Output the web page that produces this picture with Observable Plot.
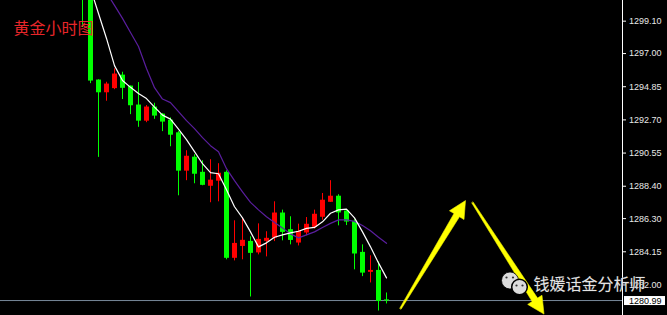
<!DOCTYPE html>
<html><head><meta charset="utf-8">
<script src="https://cdn.jsdelivr.net/npm/d3@7"></script>
<script src="https://cdn.jsdelivr.net/npm/@observablehq/plot@0.6"></script>
<style>html,body{margin:0;padding:0;background:#000;overflow:hidden}</style>
</head><body><div id="chart"></div>
<script>
// Hourly gold candles (XAUUSD), oldest first
const open  = [1302.20,1301.00,1295.25,1294.49,1294.76,1295.57,1294.86,1293.63,1292.65,1293.50,1293.04,1292.65,1291.83,1289.41,1290.25,1289.27,1288.43,1288.76,1289.27,1283.76,1284.53,1284.79,1284.11,1284.86,1285.07,1286.63,1285.55,1284.75,1285.40,1285.77,1286.42,1287.39,1287.72,1286.76,1286.09,1284.08,1282.85,1282.91,1281.00];
const high  = [1302.50,1301.20,1295.30,1295.14,1296.01,1295.79,1294.90,1295.12,1293.63,1293.78,1293.11,1292.83,1291.94,1290.70,1290.44,1290.05,1290.12,1289.86,1289.40,1286.16,1286.35,1285.12,1285.96,1285.45,1287.39,1286.85,1286.42,1285.94,1286.37,1286.85,1287.93,1288.76,1287.85,1286.87,1286.22,1284.60,1283.89,1283.50,1281.48];
const low   = [1298.69,1295.05,1290.27,1293.91,1294.66,1294.02,1293.04,1292.22,1292.52,1292.74,1291.94,1290.96,1287.78,1288.76,1288.56,1288.43,1287.33,1287.39,1283.63,1283.56,1283.63,1281.22,1283.95,1283.82,1284.81,1284.86,1284.60,1284.53,1285.19,1285.62,1286.20,1287.35,1285.83,1285.85,1282.98,1282.54,1282.13,1280.31,1280.77];
const close = [1301.00,1295.25,1294.49,1294.99,1295.64,1294.78,1293.65,1292.65,1293.50,1292.98,1292.59,1291.74,1289.41,1290.31,1289.21,1288.49,1288.76,1289.21,1283.76,1284.66,1284.86,1284.08,1284.92,1284.99,1286.63,1285.44,1284.92,1285.44,1285.90,1286.55,1287.46,1287.72,1286.70,1286.11,1284.04,1282.80,1282.91,1280.96,1280.99];
// moving averages
const maFast = [1302.91,1301.22,1299.60,1297.98,1296.22,1295.25,1294.81,1294.41,1294.08,1293.53,1293.01,1292.75,1292.10,1291.42,1290.64,1289.86,1289.28,1289.21,1288.17,1287.07,1286.35,1285.44,1284.47,1284.73,1285.09,1285.25,1285.38,1285.48,1285.67,1285.73,1286.09,1286.65,1286.87,1286.91,1286.35,1285.44,1284.47,1283.43,1282.46];
const maSlow = [1303.17,1302.59,1301.74,1300.96,1300.12,1299.28,1298.37,1297.46,1296.03,1294.79,1294.05,1293.82,1293.24,1292.65,1292.13,1291.55,1291.03,1290.64,1289.54,1288.76,1288.04,1287.35,1286.87,1286.42,1286.05,1285.70,1285.31,1285.05,1285.25,1285.44,1285.73,1285.99,1286.22,1286.22,1286.12,1285.86,1285.51,1285.09,1284.70];
const priceTicks = [1299.10,1297.00,1294.85,1292.70,1290.55,1288.40,1286.30,1284.15,1282.00,1279.85];
const lastPrice = 1280.99;
const titleText = "黄金小时图";
const watermarkText = "钱媛话金分析师";
// annotation arrows: [candle index, price]
const arrowFrom = [[39.75,1280.47],[48.75,1287.34]];
const arrowTo   = [[47.875,1287.47],[57.69,1280.11]];

const W = 667, H = 315, MR = 45;
const xDomain = [-10.25, 67.5], yDomain = [1280.02, 1300.44];

const candles = open.map((o, i) => ({i, o, h: high[i], l: low[i], c: close[i], up: close[i] > o}));
const fast = maFast.map((v, i) => ({i, v}));
const slow = maSlow.map((v, i) => ({i, v}));

const xs = Plot.scale({x: {domain: xDomain, range: [0, W - MR]}});
const ys = Plot.scale({y: {domain: yDomain, range: [H, 0]}});
function arrowPoly(a, b) {
  const tx = xs.apply(a[0]), ty = ys.apply(a[1]), hx = xs.apply(b[0]), hy = ys.apply(b[1]);
  const dx = hx - tx, dy = hy - ty, L = Math.hypot(dx, dy), ux = dx / L, uy = dy / L, nx = -uy, ny = ux;
  const hl = 17, hw = 8.5, sw0 = 0.8, sw1 = 3.2;
  const bx = hx - ux * hl, by = hy - uy * hl;
  const pts = [[tx + nx*sw0, ty + ny*sw0], [bx + nx*sw1, by + ny*sw1], [bx + nx*hw, by + ny*hw], [hx, hy],
               [bx - nx*hw, by - ny*hw], [bx - nx*sw1, by - ny*sw1], [tx - nx*sw0, ty - ny*sw0]];
  return pts.map(([px, py]) => ({x: xs.invert(px), y: ys.invert(py)}));
}
const arrows = arrowFrom.map((a, k) => arrowPoly(a, arrowTo[k]));

// WeChat-style icon pieces, placed relative to the frame's bottom-right corner
const iconBubbles = [
  {dx: -112.5, dy: -35, r: 8.5, sw: 0.8},
  {dx: -103, dy: -28.5, r: 7.8, sw: 1.5}
];
const iconEyes = [[-116, -38], [-109.5, -38], [-106, -30], [-100, -30]];

const GREEN = "#00ff00", RED = "#ff0000";
const chart = Plot.plot({
  width: W, height: H,
  marginLeft: 0, marginRight: MR, marginTop: 0, marginBottom: 0,
  style: {background: "#000", color: "#e8e8e8", fontFamily: "Liberation Sans, Arial, sans-serif", fontSize: "9px", overflow: "hidden"},
  x: {domain: xDomain, axis: null},
  y: {domain: yDomain},
  marks: [
    Plot.ruleY([lastPrice], {stroke: "#778899", strokeWidth: 1}),
    Plot.ruleX(candles, {x: "i", y1: "l", y2: "h", stroke: d => d.up ? RED : GREEN, strokeWidth: 1}),
    Plot.rect(candles, {x1: "i", x2: "i", y1: "o", y2: "c", insetLeft: -2, insetRight: -3, insetTop: -0.5, insetBottom: -0.5, fill: d => d.up ? RED : GREEN}),
    Plot.line(slow, {x: "i", y: "v", stroke: "#5a1e9e", strokeWidth: 1.2, curve: "linear"}),
    Plot.line(fast, {x: "i", y: "v", stroke: "#ffffff", strokeWidth: 1.2, curve: "linear"}),
    Plot.ruleX([xDomain[1]], {stroke: "#ffffff", strokeWidth: 1}),
    Plot.axisY(priceTicks, {anchor: "right", tickSize: 3, tickPadding: 3.5, tickFormat: d => d.toFixed(2), fontSize: 9, label: null, stroke: "#ffffff"}),
    Plot.rect([lastPrice], {x1: () => xDomain[1], x2: () => xDomain[1], y1: d => d, y2: d => d, insetLeft: 2, insetRight: -43, insetTop: -4, insetBottom: -5, fill: "#ffffff"}),
    Plot.text([lastPrice], {x: () => xDomain[1], y: d => d, dx: 6.5, dy: 0.5, textAnchor: "start", fill: "#000", fontSize: 9, text: d => d.toFixed(2)}),
    ...arrows.map(p => Plot.line(p, {x: "x", y: "y", fill: "#ffff00", stroke: "#f2f200", strokeWidth: 0.6, curve: "linear-closed"})),
    Plot.text([titleText], {frameAnchor: "top-left", dx: 13, dy: 28, textAnchor: "start", lineAnchor: "middle", fontSize: 16, fontFamily: "Noto Sans CJK SC", fill: "#e8262a", text: d => d}),
    ...iconBubbles.map(b => Plot.dot([0], {frameAnchor: "bottom-right", dx: b.dx, dy: b.dy, r: b.r, fill: "#dcdcdc", stroke: "#000", strokeWidth: b.sw})),
    ...iconEyes.map(([ex, ey]) => Plot.dot([0], {frameAnchor: "bottom-right", dx: ex, dy: ey, r: 1.1, fill: "#333"})),
    Plot.text([watermarkText], {frameAnchor: "bottom-right", dx: -89, dy: -31, textAnchor: "start", lineAnchor: "middle", fontSize: 16, fontFamily: "Noto Sans CJK SC", fill: "#e4e4e4", stroke: "#555", strokeWidth: 0.3, text: d => d})
  ]
});
document.getElementById("chart").appendChild(chart);
</script>
</body></html>
